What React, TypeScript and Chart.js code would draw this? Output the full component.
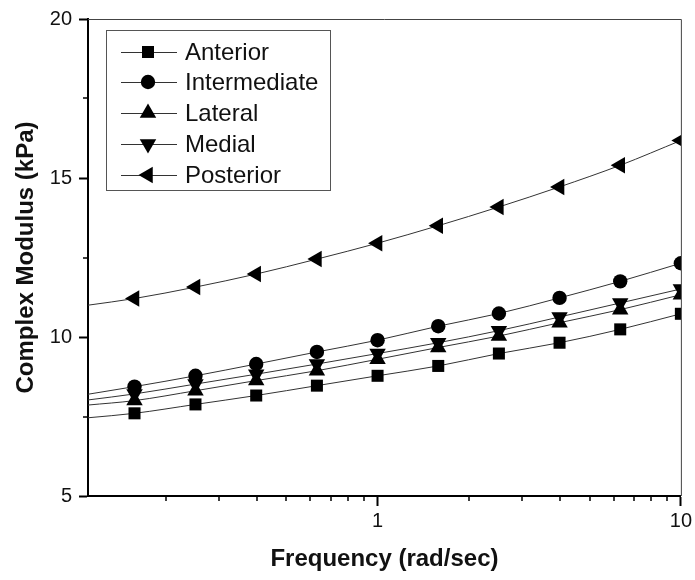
import React, { useEffect, useRef } from 'react';
import { Chart, registerables } from 'chart.js';

Chart.register(...registerables);

// Frequencies (rad/sec); first value is the left end of the fitted curves (no marker)
const frequencies = [0.111, 0.158, 0.251, 0.398, 0.631, 1, 1.585, 2.512, 3.981, 6.31, 10];

const anterior = [7.46, 7.6, 7.88, 8.16, 8.47, 8.78, 9.09, 9.48, 9.82, 10.24, 10.73];
const intermediate = [8.2, 8.44, 8.78, 9.15, 9.53, 9.9, 10.34, 10.74, 11.23, 11.75, 12.32];
const lateral = [7.86, 8.0, 8.31, 8.63, 8.94, 9.3, 9.67, 10.03, 10.45, 10.86, 11.33];
const medial = [8.02, 8.21, 8.52, 8.83, 9.15, 9.48, 9.82, 10.2, 10.63, 11.07, 11.51];
const posterior = [11.0, 11.21, 11.57, 11.98, 12.45, 12.95, 13.5, 14.09, 14.72, 15.4, 16.18];

const seriesNames = ['Anterior', 'Intermediate', 'Lateral', 'Medial', 'Posterior'];
const seriesValues = [anterior, intermediate, lateral, medial, posterior];

const xMajorTicks = [1, 10];
const xMinorTicks = [0.2, 0.3, 0.4, 0.5, 0.6, 0.7, 0.8, 0.9, 2, 3, 4, 5, 6, 7, 8, 9];
const yMajorTicks = [5, 10, 15, 20];
const yMinorTicks = [7.5, 12.5, 17.5];

type Marker = { style: string; rotation: number; radius: number };
const markers: Marker[] = [
  { style: 'rect', rotation: 0, radius: 8.5 },
  { style: 'circle', rotation: 0, radius: 7.2 },
  { style: 'triangle', rotation: 0, radius: 9.5 },
  { style: 'triangle', rotation: 180, radius: 9.5 },
  { style: 'triangle', rotation: -90, radius: 9.5 },
];

const FONT = 'Arial, "Liberation Sans", Helvetica, sans-serif';

function drawMarker(ctx: CanvasRenderingContext2D, m: Marker, x: number, y: number) {
  ctx.beginPath();
  if (m.style === 'rect') {
    const s = Math.SQRT1_2 * m.radius;
    ctx.rect(x - s, y - s, 2 * s, 2 * s);
  } else if (m.style === 'circle') {
    ctx.arc(x, y, m.radius, 0, Math.PI * 2);
  } else {
    let rad = (m.rotation * Math.PI) / 180;
    for (let k = 0; k < 3; k++) {
      const px = x + Math.sin(rad) * m.radius;
      const py = y - Math.cos(rad) * m.radius;
      if (k === 0) ctx.moveTo(px, py);
      else ctx.lineTo(px, py);
      rad += (2 * Math.PI) / 3;
    }
    ctx.closePath();
  }
  ctx.fillStyle = '#000';
  ctx.fill();
}

const decorPlugin = {
  id: 'decor',
  afterDraw(chart: any) {
    const ctx: CanvasRenderingContext2D = chart.ctx;
    const { left, right, top, bottom } = chart.chartArea;
    const xs = chart.scales.x;
    const ys = chart.scales.y;
    ctx.save();
    // frame top/right
    ctx.strokeStyle = '#444';
    ctx.lineWidth = 1;
    ctx.beginPath();
    ctx.moveTo(left, top + 0.5);
    ctx.lineTo(right + 0.5, top + 0.5);
    ctx.lineTo(right + 0.5, bottom);
    ctx.stroke();
    // minor ticks
    ctx.strokeStyle = '#000';
    ctx.lineWidth = 1.5;
    ctx.beginPath();
    xMinorTicks.forEach((v) => {
      const px = Math.round(xs.getPixelForValue(v));
      ctx.moveTo(px, bottom);
      ctx.lineTo(px, bottom + 5);
    });
    yMinorTicks.forEach((v) => {
      const py = Math.round(ys.getPixelForValue(v));
      ctx.moveTo(left, py);
      ctx.lineTo(left - 5, py);
    });
    ctx.stroke();

    // legend
    const bx = 106, by = 30, bw = 224, bh = 160;
    ctx.fillStyle = '#fff';
    ctx.fillRect(bx, by, bw, bh);
    ctx.strokeStyle = '#555';
    ctx.lineWidth = 1;
    ctx.strokeRect(bx + 0.5, by + 0.5, bw, bh);
    const rowY = [52, 82, 113, 144, 175];
    ctx.font = `24px ${FONT}`;
    ctx.textBaseline = 'middle';
    ctx.textAlign = 'left';
    seriesNames.forEach((name, i) => {
      const y = rowY[i];
      ctx.strokeStyle = '#333';
      ctx.lineWidth = 1;
      ctx.beginPath();
      ctx.moveTo(121, y + 0.5);
      ctx.lineTo(177, y + 0.5);
      ctx.stroke();
      drawMarker(ctx, markers[i], 148, y);
      ctx.fillStyle = '#111';
      ctx.fillText(name, 185, y + 1);
    });
    ctx.restore();
  },
};

export default function App() {
  const canvasRef = useRef<HTMLCanvasElement | null>(null);

  useEffect(() => {
    const canvas = canvasRef.current;
    if (!canvas) return;
    const datasets = seriesNames.map((name, i) => ({
      label: name,
      data: frequencies.map((f, j) => ({ x: f, y: seriesValues[i][j] })),
      borderColor: '#333',
      borderWidth: 1,
      pointStyle: markers[i].style,
      pointRotation: markers[i].rotation,
      pointRadius: frequencies.map((_, j) => (j === 0 ? 0 : markers[i].radius)),
      pointHoverRadius: frequencies.map((_, j) => (j === 0 ? 0 : markers[i].radius)),
      pointBackgroundColor: '#000',
      pointBorderColor: '#000',
      pointBorderWidth: 0,
      cubicInterpolationMode: 'monotone',
      fill: false,
      clip: 0,
    }));

    const chart = new Chart(canvas, {
      type: 'line',
      data: { datasets } as any,
      plugins: [decorPlugin],
      options: {
        responsive: false,
        animation: false,
        devicePixelRatio: 1,
        layout: { padding: { left: 0, right: 13, top: 15, bottom: 0 } },
        plugins: { legend: { display: false }, tooltip: { enabled: false } },
        scales: {
          x: {
            type: 'logarithmic',
            min: frequencies[0],
            max: 10,
            afterBuildTicks: (scale: any) => {
              scale.ticks = xMajorTicks.map((v) => ({ value: v, major: true }));
            },
            afterFit: (scale: any) => {
              scale.height = 84;
            },
            ticks: {
              autoSkip: false,
              maxRotation: 0,
              color: '#111',
              font: { size: 20, family: FONT },
              padding: 3,
              callback: (v: any) => String(v),
            },
            grid: {
              drawOnChartArea: false,
              drawTicks: true,
              tickLength: 10,
              tickWidth: 2,
              tickColor: '#000',
            },
            border: { display: true, color: '#000', width: 2 },
            title: {
              display: true,
              text: 'Frequency (rad/sec)',
              color: '#111',
              font: { size: 24, weight: 'bold', family: FONT },
              padding: { top: 0, bottom: 6 },
            },
          },
          y: {
            type: 'linear',
            min: 5,
            max: 20,
            afterBuildTicks: (scale: any) => {
              scale.ticks = yMajorTicks.map((v) => ({ value: v }));
            },
            afterFit: (scale: any) => {
              scale.width = 88;
            },
            ticks: {
              color: '#111',
              font: { size: 20, family: FONT },
              padding: 7,
              callback: (v: any) => String(v),
            },
            grid: {
              drawOnChartArea: false,
              drawTicks: true,
              tickLength: 9,
              tickWidth: 2,
              tickColor: '#000',
            },
            border: { display: true, color: '#000', width: 2 },
            title: {
              display: true,
              text: 'Complex Modulus (kPa)',
              color: '#111',
              font: { size: 24, weight: 'bold', family: FONT },
              padding: { top: 12, bottom: 0 },
            },
          },
        },
      } as any,
    });
    return () => chart.destroy();
  }, []);

  return (
    <div style={{ position: 'fixed', left: 0, top: 0, width: 695, height: 580, background: '#fff' }}>
      <canvas ref={canvasRef} width={695} height={580} style={{ display: 'block', width: 695, height: 580 }} />
    </div>
  );
}
